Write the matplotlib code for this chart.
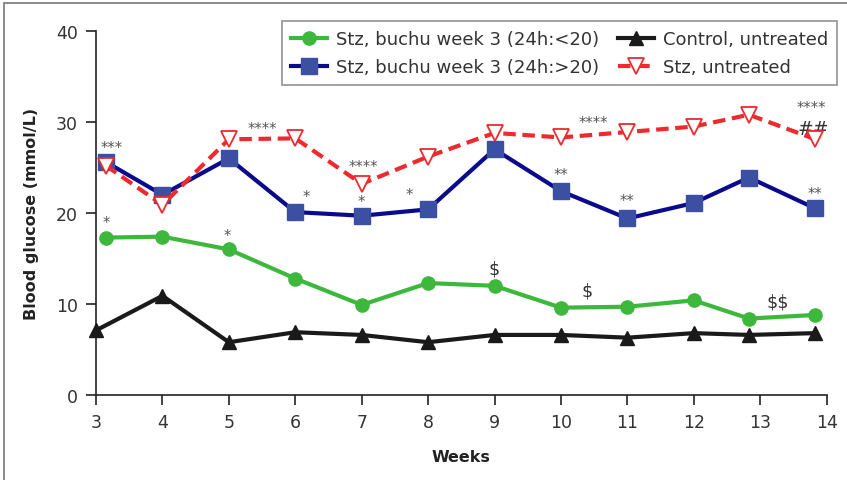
import matplotlib
matplotlib.use("Agg")
import matplotlib.pyplot as plt
from matplotlib.patches import Rectangle

plt.rcParams['font.family'] = ['DejaVu Sans']
plt.rcParams['text.parse_math'] = False

# Weeks at which each group was measured
weeks_main = [3.15, 4, 5, 6, 7, 8, 9, 10, 11, 12, 12.83, 13.83]
weeks_ctrl = [3, 4, 5, 6, 7, 8, 9, 10, 11, 12, 12.83, 13.83]

# Blood glucose (mmol/L)
buchu_low = [17.3, 17.4, 16.0, 12.8, 9.9, 12.3, 12.0, 9.6, 9.7, 10.4, 8.4, 8.8]
buchu_high = [25.6, 22.0, 26.0, 20.1, 19.7, 20.4, 27.0, 22.4, 19.4, 21.1, 23.9, 20.5]
control = [7.1, 10.9, 5.8, 6.9, 6.6, 5.8, 6.6, 6.6, 6.3, 6.8, 6.6, 6.8]
stz_untreated = [25.2, 20.9, 28.1, 28.2, 23.2, 26.2, 28.8, 28.3, 28.9, 29.5, 30.8, 28.1]

series_labels = ["Stz, buchu week 3 (24h:<20)", "Stz, buchu week 3 (24h:>20)",
                 "Control, untreated", "Stz, untreated"]

x_ticks = [3, 4, 5, 6, 7, 8, 9, 10, 11, 12, 13, 14]
y_ticks = [0, 10, 20, 30, 40]

# Significance markers: (x, y, text)
sig_marks = [
    (3.24, 27.2, "***"), (3.15, 19.0, "*"), (4.97, 17.5, "*"),
    (5.51, 29.3, "****"), (6.16, 21.8, "*"), (7.03, 25.1, "****"),
    (6.99, 21.3, "*"), (7.71, 22.0, "*"), (10.0, 24.2, "**"),
    (10.48, 29.9, "****"), (11.0, 21.4, "**"), (13.77, 31.6, "****"),
    (13.82, 22.1, "**"),
]
hash_marks = [(13.80, 29.3, "##")]
dollar_marks = [(8.99, 13.9, "$"), (10.40, 11.5, "$"), (13.27, 10.3, "$$")]

fig = plt.figure(figsize=(8.47, 4.81), dpi=100)
ax = fig.add_axes([96 / 847, 1 - 396 / 481, (826.7 - 96) / 847, (396 - 32) / 481])

# Outer frame
fig.patches.append(Rectangle((4 / 847, -0.1), 1.2, 1 - 4 / 481 + 0.1, transform=fig.transFigure,
                             fill=False, edgecolor="#777777", linewidth=1.2))

green = "#3db83d"
navy = "#0a0a8c"
blue_face = "#3b4fa3"
red = "#ee2a2e"
black = "#1a1a1a"
text_col = "#333333"

l1, = ax.plot(weeks_main, buchu_low, color=green, lw=3, marker='o', ms=9.5,
              markerfacecolor=green, markeredgecolor=green, clip_on=False, zorder=3)
l2, = ax.plot(weeks_main, buchu_high, color=navy, lw=3, marker='s', ms=11,
              markerfacecolor=blue_face, markeredgecolor=blue_face, clip_on=False, zorder=3)
l3, = ax.plot(weeks_ctrl, control, color=black, lw=3, marker='^', ms=10.5,
              markerfacecolor=black, markeredgecolor=black, clip_on=False, zorder=3)
l4, = ax.plot(weeks_main, stz_untreated, color=red, lw=3, dashes=(3, 1.6), marker='v', ms=11.5,
              markerfacecolor='white', markeredgecolor=red, markeredgewidth=1.3,
              clip_on=False, zorder=4)

for x, y, t in sig_marks:
    ax.text(x, y, t, ha='center', va='center', fontsize=10.5, color="#555555")
for x, y, t in hash_marks:
    ax.text(x, y, t, ha='center', va='center', fontsize=13.5, color=text_col)
for x, y, t in dollar_marks:
    ax.text(x, y, t, ha='center', va='center', fontsize=12.5, color=text_col)

ax.set_xlim(3, 14)
ax.set_ylim(0, 40)
ax.set_xticks(x_ticks)
ax.set_yticks(y_ticks)
ax.tick_params(direction='out', length=7, width=1.2, labelsize=12.5, colors=text_col, pad=6)
ax.tick_params(color="#222222")
for side in ('top', 'right'):
    ax.spines[side].set_visible(False)
for side in ('left', 'bottom'):
    ax.spines[side].set_linewidth(1.2)
    ax.spines[side].set_color("#222222")

ax.set_xlabel("Weeks", fontsize=11.5, fontweight='bold', labelpad=13, color="#222222")
ax.set_ylabel("Blood glucose (mmol/L)", fontsize=11.5, fontweight='bold', labelpad=12, color="#222222")

leg = fig.legend([l1, l2, l3, l4], series_labels,
                 ncol=2, loc='upper right', bbox_to_anchor=(837 / 847, 1 - 22 / 481),
                 borderaxespad=0.0, labelcolor=text_col,
                 fontsize=13, frameon=True, fancybox=False, edgecolor="#777777",
                 handlelength=2.0, columnspacing=1.0, handletextpad=0.5, labelspacing=0.55,
                 borderpad=0.5)
leg.get_frame().set_linewidth(1.2)

fig.savefig("out.png", dpi=100)
